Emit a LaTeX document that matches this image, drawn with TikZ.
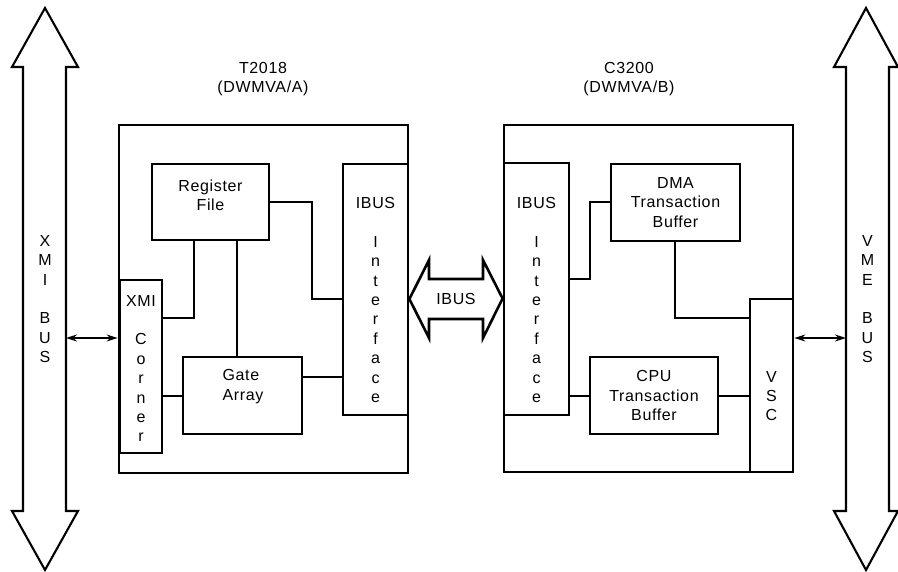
\documentclass[tikz,border=0pt]{standalone}
\usepackage{fontspec}
\setmainfont{Liberation Sans}[LetterSpace=4]
\usetikzlibrary{arrows.meta}

\begin{document}
\begin{tikzpicture}[x=1pt,y=-1pt,
    every node/.style={font=\fontsize{16}{19.4}\selectfont},
    txt/.style={inner sep=0pt,align=center},
    frame/.style={draw,line width=2.8pt,inner sep=0pt},
    blockbox/.style={draw,line width=1.6pt,inner sep=0pt,align=center},
    wire/.style={line width=1.6pt},
    bigarrow/.style={draw,line width=2.1pt,line join=miter},
    dbl/.style={line width=1.5pt,{Stealth[length=11pt,width=7pt]}-{Stealth[length=11pt,width=7pt]}}]
    \useasboundingbox (0,0) rectangle (898,572);

    % Bus XMI (gauche)
    \draw[bigarrow] (45,8) -- (78,67) -- (66,67) -- (66,511) -- (78,511) -- (45,570)
        -- (12,511) -- (23,511) -- (23,67) -- (12,67) -- cycle;
    \node[txt] (xmibus) at (45,299) {X\\M\\I\\ \\B\\U\\S};
    \coordinate (xmiport) at (66,338);

    % Bus VME (droite)
    \draw[bigarrow] (866,8) -- (898,67) -- (889,67) -- (889,511) -- (898,511) -- (866,570)
        -- (834,511) -- (846,511) -- (846,67) -- (834,67) -- cycle;
    \node[txt] (vmebus) at (867.5,299) {V\\M\\E\\ \\B\\U\\S};
    \coordinate (vmeport) at (846,338);

    % Module T2018
    \node[txt] (titleA) at (263,79) {T2018\\(DWMVA/A)};
    \node[frame,minimum width=289pt,minimum height=348pt] (frameA) at (263.5,299) {};
    \node[blockbox,minimum width=117pt,minimum height=76pt] (regfile) at (210.5,202) {};
    \node[txt] (regtxt) at (210.5,195) {Register\\File};
    \node[blockbox,minimum width=65pt,minimum height=251pt] (ibusA) at (375.5,289.5) {};
    \node[txt] (ibusAtxt) at (375.5,300) {IBUS\\ \\I\\n\\t\\e\\r\\f\\a\\c\\e};
    \node[blockbox,minimum width=42pt,minimum height=173pt] (xmic) at (141,366.5) {};
    \node[txt] (xmictxt) at (141,368.5) {XMI\\ \\C\\o\\r\\n\\e\\r};
    \node[blockbox,minimum width=119pt,minimum height=77pt] (gate) at (242.5,395.5) {};
    \node[txt,align=left] (gatetxt) at (243,386.5) {Gate\\Array};

    \draw[wire] (regfile.east |- 0,202) -- (312,202) |- (ibusA.west |- 0,299);
    \draw[wire] (194,240) |- (xmic.east |- 0,318);
    \draw[wire] (237,240) -- (gate.north -| 237,0);
    \draw[wire] (gate.west |- 0,396) -- (xmic.east |- 0,396);
    \draw[wire] (gate.east |- 0,377) -- (ibusA.west |- 0,377);

    % Module C3200
    \node[txt] (titleB) at (629,79) {C3200\\(DWMVA/B)};
    \node[frame,minimum width=289pt,minimum height=347pt] (frameB) at (648.5,298.5) {};
    \node[blockbox,minimum width=65pt,minimum height=252pt] (ibusB) at (536.5,289) {};
    \node[txt] (ibusBtxt) at (536.5,300) {IBUS\\ \\I\\n\\t\\e\\r\\f\\a\\c\\e};
    \node[blockbox,minimum width=129pt,minimum height=77pt] (dma) at (675.5,202.5) {DMA\\Transaction\\Buffer};
    \node[blockbox,minimum width=128pt,minimum height=77pt] (cpu) at (654,395.5) {CPU\\Transaction\\Buffer};
    \node[blockbox,minimum width=43pt,minimum height=173pt] (vsc) at (771.5,385.5) {};
    \node[txt] (vsctxt) at (771.5,396) {V\\S\\C};

    \draw[wire] (ibusB.east |- 0,279) -- (590,279) |- (dma.west |- 0,202);
    \draw[wire] (ibusB.east |- 0,396) -- (cpu.west |- 0,396);
    \draw[wire] (675,241) |- (vsc.west |- 0,318);
    \draw[wire] (cpu.east |- 0,396) -- (vsc.west |- 0,396);

    % IBUS entre les deux modules
    \draw[bigarrow,line width=2.6pt] (frameA.east) -- (429,260) -- (429,279) -- (483,279) -- (483,260)
        -- (frameB.west) -- (483,338) -- (483,319) -- (429,319) -- (429,338) -- cycle;
    \node[txt] (ibuslink) at (456,299) {IBUS};

    % Liaisons vers les bus
    \draw[dbl] (xmiport) -- (frameA.west |- xmiport);
    \draw[dbl] (frameB.east |- vmeport) -- (vmeport);

\end{tikzpicture}
\end{document}
